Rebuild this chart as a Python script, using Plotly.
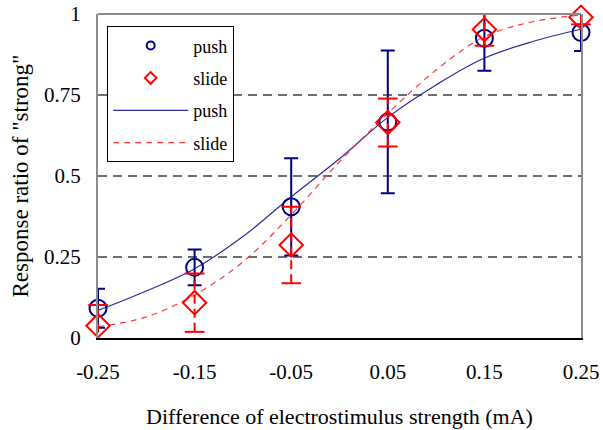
import plotly.graph_objects as go

# ---- data ----
x_levels = [-0.25, -0.15, -0.05, 0.05, 0.15, 0.25]
x_ticktext = ["-0.25", "-0.15", "-0.05", "0.05", "0.15", "0.25"]
push_y = [0.092, 0.218, 0.405, 0.667, 0.925, 0.943]
push_err = [0.06, 0.055, 0.15, 0.22, 0.10, 0.057]
slide_y = [0.038, 0.109, 0.287, 0.665, 0.952, 0.99]
slide_err = [0.064, 0.09, 0.118, 0.074, 0.05, 0.022]

curve_x = [-0.25, -0.2, -0.15, -0.1, -0.05, 0.0, 0.05, 0.1, 0.15, 0.2, 0.25]
push_fit = [0.085, 0.145, 0.214, 0.313, 0.436, 0.553, 0.681, 0.781, 0.864, 0.915, 0.953]
slide_fit = [0.035, 0.065, 0.133, 0.235, 0.38, 0.544, 0.693, 0.827, 0.93, 0.976, 0.997]

y_tickvals = [0, 0.25, 0.5, 0.75, 1]
y_ticktext = ["0", "0.25", "0.5", "0.75", "1"]

NAVY = "#000080"
RED = "#FF0000"
FONT = "Liberation Serif"

fig = go.Figure()

# fitted curves
fig.add_trace(go.Scatter(x=curve_x, y=push_fit, mode="lines", name="push",
                         line=dict(color="#2a2a9a", width=1.2, shape="spline"),
                         legendgroup="c", legendrank=3, cliponaxis=False))
fig.add_trace(go.Scatter(x=curve_x, y=slide_fit, mode="lines", name="slide",
                         line=dict(color="#ff3a3a", width=1.2, dash="6px,5px", shape="spline"),
                         legendgroup="d", legendrank=4, cliponaxis=False))

# push data with error bars
fig.add_trace(go.Scatter(x=x_levels, y=push_y, mode="markers", showlegend=False,
                         cliponaxis=False,
                         marker=dict(symbol="circle-open", size=17, color=NAVY,
                                     line=dict(width=2, color=NAVY)),
                         error_y=dict(type="data", array=push_err, visible=True,
                                      color=NAVY, thickness=2, width=7)))

# slide error bars (dashed) built from data
ex, ey = [], []
cx, cy = [], []
for xv, yv, ev in zip(x_levels, slide_y, slide_err):
    ex += [xv, xv, None]
    ey += [yv - ev, yv + ev, None]
    cx += [xv, xv]
    cy += [yv - ev, yv + ev]
fig.add_trace(go.Scatter(x=ex, y=ey, mode="lines", showlegend=False, cliponaxis=False,
                         line=dict(color=RED, width=2, dash="9px,5px")))
fig.add_trace(go.Scatter(x=cx, y=cy, mode="markers", showlegend=False, cliponaxis=False,
                         marker=dict(symbol="line-ew-open", size=14, color=RED,
                                     line=dict(width=2, color=RED))))
fig.add_trace(go.Scatter(x=x_levels, y=slide_y, mode="markers", showlegend=False,
                         cliponaxis=False,
                         marker=dict(symbol="diamond-open", size=18, color=RED,
                                     line=dict(width=2, color=RED))))

# legend-only marker entries
fig.add_trace(go.Scatter(x=[None], y=[None], mode="markers", name="push",
                         marker=dict(symbol="circle-open", size=8, color=NAVY,
                                     line=dict(width=2, color=NAVY)),
                         legendgroup="a", legendrank=1))
fig.add_trace(go.Scatter(x=[None], y=[None], mode="markers", name="slide",
                         marker=dict(symbol="diamond-open", size=9, color=RED,
                                     line=dict(width=2, color=RED)),
                         legendgroup="b", legendrank=2))

# top border
fig.add_shape(type="line", xref="x domain", yref="y domain", x0=0, x1=1, y0=1, y1=1,
              line=dict(color="#8c8c8c", width=2))

fig.update_layout(
    width=603, height=430,
    margin=dict(l=98, r=22, t=14, b=92),
    paper_bgcolor="white", plot_bgcolor="white",
    font=dict(family=FONT, size=21, color="black"),
    showlegend=True,
    legend=dict(x=0.019, y=0.962, xanchor="left", yanchor="top",
                bgcolor="white", bordercolor="black", borderwidth=1,
                font=dict(family=FONT, size=18), tracegroupgap=6,
                itemwidth=75, traceorder="grouped"),
    xaxis=dict(range=[-0.25, 0.25], tickvals=x_levels, ticktext=x_ticktext,
               showgrid=False, zeroline=False, showline=True, linecolor="black",
               linewidth=2, ticks="", ticklabelstandoff=14, automargin=False,
               ticklabeloverflow="allow",
               tickfont=dict(family=FONT, size=21),
               title=dict(text="Difference of electrostimulus strength (mA)",
                          font=dict(family=FONT, size=22), standoff=25)),
    yaxis=dict(range=[0, 1], tickvals=y_tickvals, ticktext=y_ticktext,
               showgrid=True, gridcolor="#6e6e6e", gridwidth=1.5, griddash="9px,6px",
               zeroline=False, showline=True, linecolor="#8c8c8c", linewidth=2,
               mirror=True, ticks="", ticklabelstandoff=11, automargin=False,
               ticklabeloverflow="allow",
               tickfont=dict(family=FONT, size=21),
               title=dict(text='Response ratio of "strong"',
                          font=dict(family=FONT, size=23), standoff=9)),
)

# remove the page's default body margin so the figure sits at the window origin
fig.write_html("out.html", config={"displayModeBar": False},
               post_script="document.body.style.margin='0';")
